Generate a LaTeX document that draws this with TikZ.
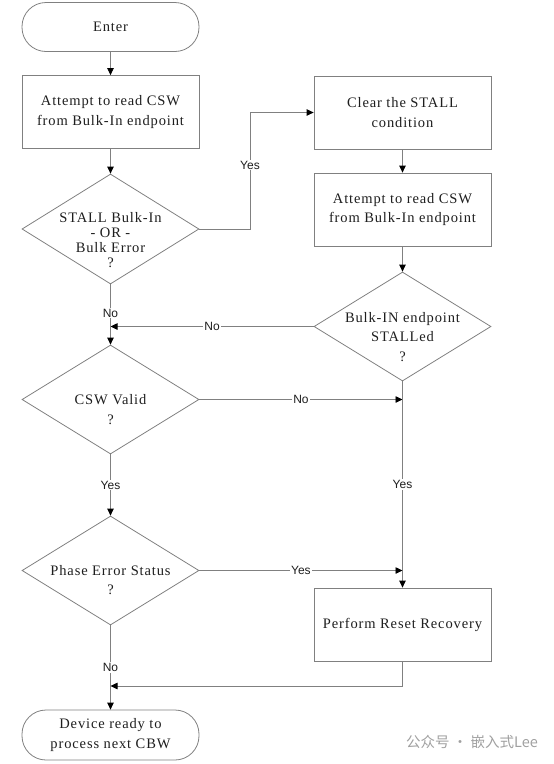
\documentclass[tikz,border=0pt]{standalone}
\usepackage{fontspec}
\setmainfont{Liberation Serif}[LetterSpace=6]
\newfontfamily\lblfont{Liberation Sans}
\newfontfamily\cjkfont{Noto Sans CJK SC}
\usetikzlibrary{shapes.geometric,arrows.meta}
\definecolor{lc}{RGB}{128,128,128}
\definecolor{tc}{RGB}{30,30,30}
\definecolor{wm}{RGB}{160,160,160}
\begin{document}
\begin{tikzpicture}[x=1pt,y=-1pt,
  line/.style={draw=lc, line width=0.8pt},
  arr/.style={line, -{Triangle[length=7pt,width=6.5pt,color=black]}},
  box/.style={rectangle, draw=lc, line width=0.8pt, minimum width=177pt, minimum height=73pt, inner sep=0pt,
     font=\fontsize{14.5}{19.5}\selectfont, align=center, text=tc},
  term/.style={rectangle, rounded corners=24pt, draw=lc, line width=0.8pt, minimum width=177pt, minimum height=49pt, inner sep=0pt,
     font=\fontsize{14.5}{19.5}\selectfont, align=center, text=tc},
  dia/.style={diamond, draw=lc, line width=0.8pt, minimum width=177pt, minimum height=109pt, inner sep=0pt},
  txt/.style={font=\fontsize{14.5}{19.5}\selectfont, align=center, text=tc, inner sep=0pt},
  lbl/.style={font=\lblfont\fontsize{12}{14}\selectfont, fill=white, inner sep=1pt, text=tc}
]
\useasboundingbox (0,0) rectangle (554,764);

\node[term] (enter) at (110.5,27) {Enter};
\node[box] (read1) at (110.5,112) {Attempt to read CSW\\from Bulk-In endpoint};
\node[dia, minimum height=110pt] (d1) at (110.5,229) {};
\node[txt, font=\fontsize{14.5}{15}\selectfont] (t1) at (110.5,240) {STALL Bulk-In\\- OR -\\Bulk Error\\?};

\node[box] (clear) at (402.5,112.5) {Clear the STALL\\condition};
\node[box] (read2) at (402.5,209.5) {Attempt to read CSW\\from Bulk-In endpoint};
\node[dia] (d2) at (402.5,326.5) {};
\node[txt] (t2) at (402.5,337) {Bulk-IN endpoint\\STALLed\\?};

\node[dia] (d3) at (110.5,399.5) {};
\node[txt] (t3) at (110.5,409.5) {CSW Valid\\?};

\node[dia] (d4) at (110.5,570.5) {};
\node[txt] (t4) at (110.5,580) {Phase Error Status\\?};

\node[box] (reset) at (402.5,624.5) {Perform Reset Recovery};
\node[term, minimum height=50pt] (done) at (110.5,735) {Device ready to\\process next CBW};

\coordinate (j2) at (250,112.5);
\coordinate (n1) at (110.5,326.5);
\coordinate (r1) at (402.5,399.5);
\coordinate (r2) at (402.5,570.5);
\coordinate (b1) at (402.5,686);
\coordinate (b2) at (110.5,686);

\draw[arr] (enter) -- (read1);
\draw[arr] (read1) -- (d1);
\draw[arr] (d1.east) -| node[lbl, pos=0.775]{Yes} (j2) -- (clear.west);
\draw[arr] (clear) -- (read2);
\draw[arr] (read2) -- (d2.north);
\draw[arr] (d2.west) -- node[lbl]{No} (n1);
\draw[arr] (d1.south) -- node[lbl, pos=0.475]{No} (d3.north);
\draw[arr] (d3.east) -- node[lbl]{No} (r1);
\draw[arr] (d2.south) -- node[lbl, pos=0.5]{Yes} (reset.north);
\draw[arr] (d3.south) -- node[lbl]{Yes} (d4.north);
\draw[arr] (d4.east) -- node[lbl]{Yes} (r2);
\draw[arr] (d4.south) -- node[lbl]{No} (done.north);
\draw[arr] (reset.south) -- (b1) -- (b2);

\node[anchor=west, inner sep=0pt, text=wm, font=\cjkfont\fontsize{14.5}{16}\selectfont] (wmk) at (406,742) {公众号 · 嵌入式Lee};
\end{tikzpicture}
\end{document}
